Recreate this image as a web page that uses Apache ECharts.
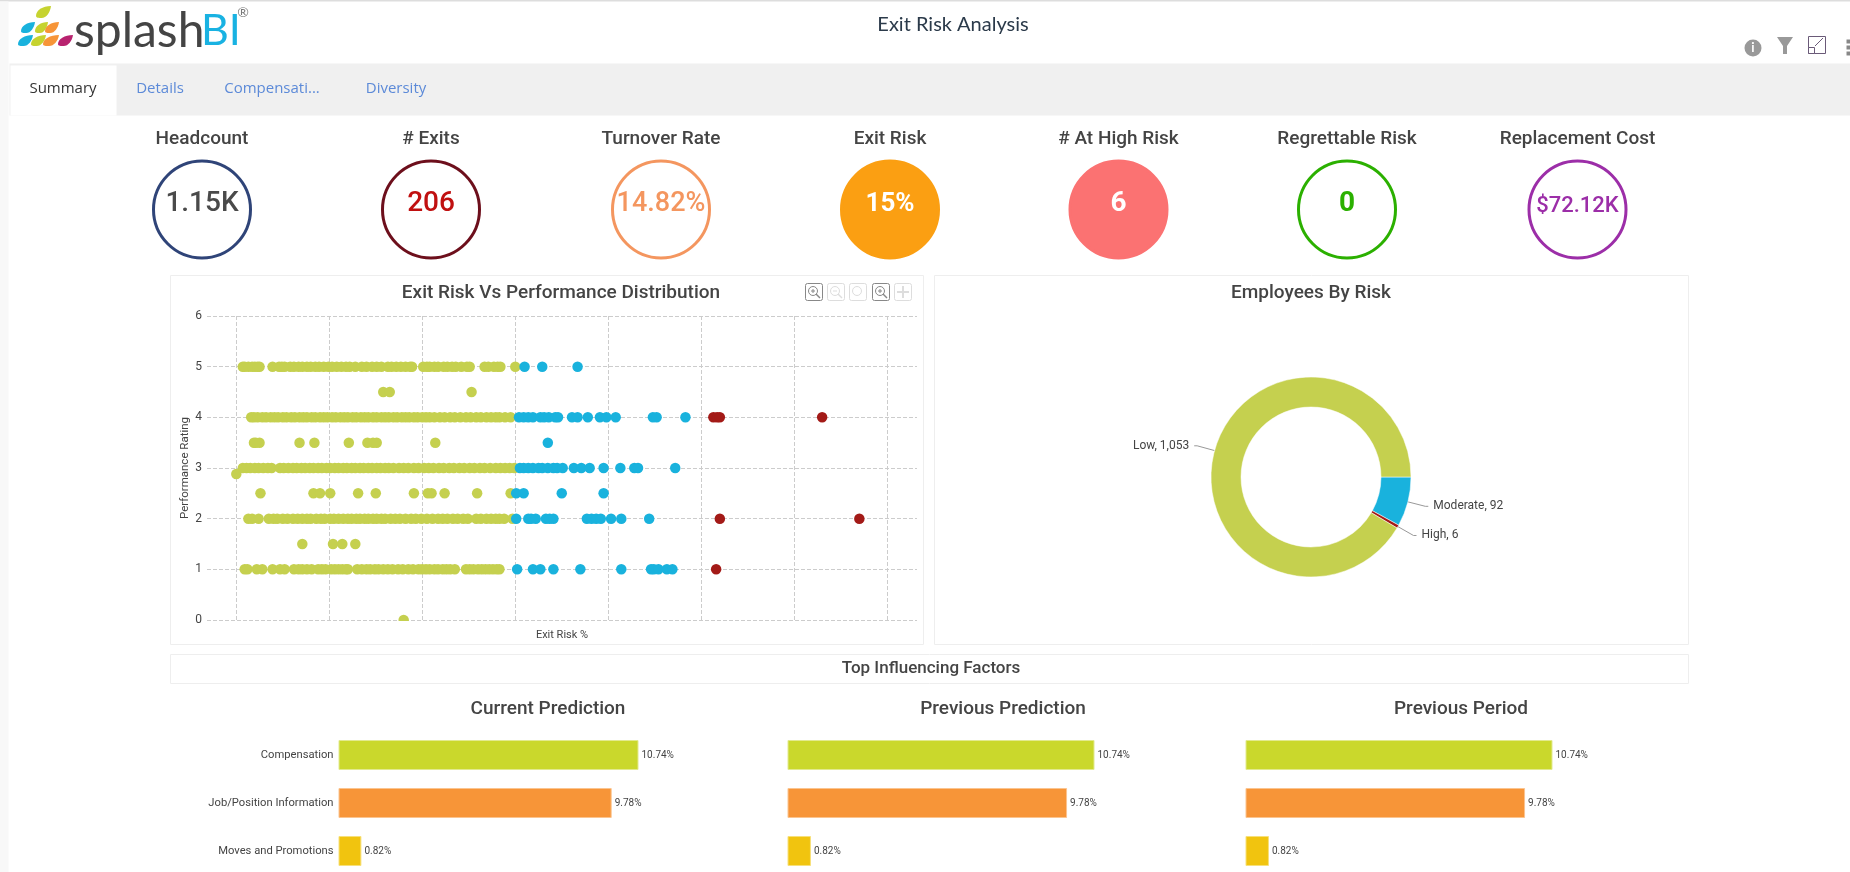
<!DOCTYPE html>
<html>
<head>
<meta charset="utf-8">
<title>Exit Risk Analysis</title>
<script src="https://cdn.jsdelivr.net/npm/echarts@6/dist/echarts.min.js"></script>
<style>
  html, body { margin: 0; padding: 0; background: #fff; overflow: hidden; }
  /* taller than the window: the last bar row runs off the bottom of the page */
  #echartbox { width: 1850px; height: 900px; }
</style>
</head>
<body>
<div id="echartbox"></div>
<script>
var myChart = echarts.init(document.getElementById('echartbox'));

// data
var tabs = ['Summary', 'Details', 'Compensati...', 'Diversity'];
var kpiNames = ['Headcount', '# Exits', 'Turnover Rate', 'Exit Risk', '# At High Risk', 'Regrettable Risk', 'Replacement Cost'];
var kpiValues = ['1.15K', '206', '14.82%', '15%', '6', '0', '$72.12K'];

var riskNames = ['Moderate', 'High', 'Low'];
var riskCounts = [92, 6, 1053];

var factors = ['Compensation', 'Job/Position Information', 'Moves and Promotions'];
var currentPrediction = [10.74, 9.78, 0.82];
var previousPrediction = [10.74, 9.78, 0.82];
var previousPeriod = [10.74, 9.78, 0.82];

// exit risk % per performance rating
var low5 = [0.7,0.9,1.3,1.7,2.0,2.3,2.5,3.9,4.6,4.9,5.2,5.8,6.2,6.7,7.1,7.6,8.0,8.5,8.9,9.4,9.9,10.3,10.8,11.3,11.8,12.2,12.8,13.5,14.0,14.6,15.1,15.6,16.3,16.7,17.2,17.7,18.2,18.7,18.9,20.1,20.5,20.8,21.3,21.7,22.3,22.7,23.2,23.6,24.2,24.8,25.1,26.7,27.1,27.7,28.1,28.4,30.0];
var low45 = [15.8,16.5,25.3];
var low4 = [1.6,1.9,2.3,2.8,3.2,3.7,4.1,4.5,5.0,5.4,5.9,6.3,6.8,7.2,7.6,8.1,8.5,9.0,9.4,9.8,10.3,10.7,11.2,11.6,12.0,12.5,12.9,13.4,13.8,14.2,14.7,15.1,15.6,16.0,16.4,16.9,17.3,17.8,18.2,18.6,19.1,19.5,20.0,20.4,20.8,21.3,21.9,22.4,23.0,23.5,24.1,24.7,25.2,25.8,26.3,26.9,27.4,27.9,28.3,28.9,29.5];
var low35 = [1.9,2.1,2.5,6.8,8.4,12.1,14.1,14.7,15.1,21.4];
var low3 = [0.7,1.1,1.5,2.0,2.4,2.9,3.4,3.8,4.7,5.1,5.6,6.1,6.5,7.0,7.4,7.9,8.3,8.8,9.2,9.7,10.1,10.6,11.0,11.5,11.9,12.4,12.8,13.3,13.7,14.2,14.6,15.1,15.5,16.0,16.4,16.9,17.5,18.0,18.5,19.1,19.6,20.2,20.7,21.2,21.8,22.3,22.9,23.4,24.0,24.5,25.1,25.6,26.2,26.7,27.3,27.9,28.4,28.9,29.4,29.9];
var low25 = [2.6,8.3,9.0,10.1,13.1,15.0,19.1,20.6,21.0,22.4,25.9,29.5];
var low2 = [1.3,1.7,2.4,3.5,4.0,4.4,5.0,5.5,6.1,6.6,7.1,7.6,8.0,8.6,9.1,9.5,10.1,10.5,11.0,11.5,12.0,12.4,12.9,13.3,13.8,14.2,14.7,15.1,15.6,16.0,16.6,17.1,17.6,18.2,18.8,19.3,19.9,20.5,21.1,21.7,22.2,22.7,23.3,23.8,24.4,24.9,25.8,26.3,26.9,27.4,27.9,28.3,28.8,29.7];
var low15 = [7.1,10.4,11.4,12.8];
var low1 = [0.9,1.2,2.2,2.8,3.9,4.7,5.2,6.2,6.7,7.1,7.6,8.1,8.8,9.2,9.6,10.2,10.6,11.0,11.4,11.8,12.0,13.0,13.5,14.0,14.4,14.9,15.3,15.8,16.3,16.8,17.4,17.9,18.5,19.0,19.6,20.0,20.4,20.8,21.3,21.7,22.2,22.6,23.0,23.5,24.7,25.1,25.5,26.0,26.4,26.8,27.2,27.6,28.0,28.3];
var lowOther = [[0, 2.88], [18.0, 0]];

var moderate5 = [31.0,32.9,36.7];
var moderate4 = [30.4,30.9,31.4,31.9,32.7,33.1,33.6,34.3,34.6,36.1,36.7,37.8,39.1,39.8,40.8,44.8,45.2,48.3];
var moderate35 = [33.5];
var moderate3 = [30.5,30.9,31.4,31.9,32.5,32.9,33.5,34.1,34.5,35.1,36.3,37.1,38.0,39.5,41.3,42.8,43.2,47.2];
var moderate25 = [30.1,30.9,35.0,39.5];
var moderate2 = [30.1,31.4,31.7,32.2,33.3,33.7,34.1,37.7,38.2,38.7,39.2,40.3,41.4,44.4];
var moderate1 = [30.2,31.9,32.7,34.1,37.0,41.4,44.6,44.9,45.4,46.3,46.9];

var high4 = [51.3,51.7,52.0,63.0];
var high2 = [52.0,67.0];
var high1 = [51.6];

var LOW = '#c5d04f', MODERATE = '#19b2dd', HIGH = '#a31a17';
var TEXT = '#444';
var FONT = 'Roboto, sans-serif';

// logo droplet, 16 x 11 before scaling
echarts.graphic.registerShape('teardrop', echarts.graphic.extendPath('M0,9 C0,4 7,0 16,0 C15,6 11,11 6,11 C3,11 0,11 0,9 Z', {}));

function row(list, rating) {
    return list.map(function(v) { return [v, rating]; });
}

var lowData = [].concat(row(low5, 5), row(low45, 4.5), row(low4, 4), row(low35, 3.5), row(low3, 3), row(low25, 2.5), row(low2, 2), row(low15, 1.5), row(low1, 1), lowOther);
var moderateData = [].concat(row(moderate5, 5), row(moderate4, 4), row(moderate35, 3.5), row(moderate3, 3), row(moderate25, 2.5), row(moderate2, 2), row(moderate1, 1));
var highData = [].concat(row(high4, 4), row(high2, 2), row(high1, 1));

// helpers for the page shell
function txt(s, x, y, font, color, align) {
    return {
        type: 'text', x: x, y: y, silent: true,
        style: { text: s, font: font, fill: color, align: align || 'center', verticalAlign: 'middle' }
    };
}
function box(x, y, w, h, fill, stroke) {
    return {
        type: 'rect', silent: true,
        shape: { x: x + 0.5, y: y + 0.5, width: w, height: h },
        style: { fill: fill, stroke: stroke || null, lineWidth: 1 }
    };
}
function seg(x1, y1, x2, y2, color, width) {
    return {
        type: 'line', silent: true,
        shape: { x1: x1, y1: y1, x2: x2, y2: y2 },
        style: { stroke: color, lineWidth: width || 1 }
    };
}

var graphics = [];

// header and tabs
graphics.push(box(-1, -1, 1852, 2, '#ddd'));
graphics.push(box(-1, 1, 9, 900, '#f8f8f8'));
graphics.push(box(9, 63, 1841, 52, '#f0f0f0'));
graphics.push(box(10, 65, 106, 50, '#fff'));
graphics.push(txt('Exit Risk Analysis', 953, 25, '20px Lato, sans-serif', '#2b3a4a'));
var tabX = [63, 160, 272, 396];
tabs.forEach(function(t, i) {
    graphics.push(txt(t, tabX[i], 89, '15px "Open Sans", sans-serif', i === 0 ? '#333' : '#5c8ad8'));
});

// logo
var drops = [
    [36, 6, 15, 12, '#c6d330'],
    [21, 22, 14, 11, '#19b2dd'], [35, 22, 13, 11, '#c6d330'], [45, 22, 14, 11, '#f79538'],
    [18, 35, 15, 11, '#19b2dd'], [31, 35, 15, 11, '#c6d330'], [43, 35, 16, 11, '#f79538'], [58, 35, 15, 11, '#b8236f']
];
drops.forEach(function(d) {
    graphics.push({
        type: 'teardrop', silent: true,
        x: d[0], y: d[1], scaleX: d[2] / 16, scaleY: d[3] / 11,
        style: { fill: d[4] }
    });
});
graphics.push(txt('splash', 74, 32, '48px Lato, sans-serif', '#444', 'left'));
graphics.push(txt('BI', 201, 31, '43px Lato, sans-serif', '#19b2e2', 'left'));
graphics.push(txt('®', 243, 12, '14px Lato, sans-serif', '#777'));

// header icons
graphics.push({ type: 'circle', silent: true, shape: { cx: 1753, cy: 48, r: 8.5 }, style: { fill: '#999' } });
graphics.push(txt('i', 1753, 48, 'bold 13px Lato, sans-serif', '#fff'));
graphics.push({ type: 'polygon', silent: true, shape: { points: [[1777, 37], [1793, 37], [1787, 46], [1787, 54], [1783, 54], [1783, 46]] }, style: { fill: '#999' } });
graphics.push(box(1808, 36, 17, 17, null, '#6a5a78'));
graphics.push(box(1808, 47, 6, 6, '#fff', '#6a5a78'));
graphics.push(seg(1815, 46, 1823, 38, '#6a5a78'));
graphics.push(box(1846, 39, 5, 4, '#888'));
graphics.push(box(1846, 45, 5, 4, '#888'));
graphics.push(box(1846, 51, 5, 4, '#888'));

// KPI row
var kpiX = [202, 431, 661, 890, 1118.5, 1347, 1577.5];
var kpiRing = ['#2f4478', '#6d0f1c', '#f4965f', '#fb9f12', '#fb7272', '#2bb000', '#9c2ea8'];
var kpiFill = ['#fff', '#fff', '#fff', '#fb9f12', '#fb7272', '#fff', '#fff'];
var kpiText = ['#4a4a4a', '#c01010', '#f4965f', '#fff', '#fff', '#2bb000', '#9c2ea8'];
var kpiFont = ['500 28px', '500 28px', '500 27px', 'bold 26px', 'bold 28px', 'bold 28px', '500 22px'];
kpiNames.forEach(function(n, i) {
    graphics.push(txt(n, kpiX[i], 139, '500 19px ' + FONT, TEXT));
    graphics.push({
        type: 'circle', silent: true,
        shape: { cx: kpiX[i], cy: 209.5, r: 48.5 },
        style: { fill: kpiFill[i], stroke: kpiRing[i], lineWidth: 3 }
    });
    graphics.push(txt(kpiValues[i], kpiX[i], i === 6 ? 206 : 204, kpiFont[i] + ' ' + FONT, kpiText[i]));
});

// panels
graphics.push(box(170, 275, 753, 369, '#fff', '#eee'));
graphics.push(box(934, 275, 754, 369, '#fff', '#eee'));
graphics.push(box(170, 654, 1518, 29, '#fff', '#eee'));
graphics.push(txt('Exit Risk Vs Performance Distribution', 561, 293, '500 19px ' + FONT, TEXT));
graphics.push(txt('Employees By Risk', 1311, 293, '500 19px ' + FONT, TEXT));
graphics.push(txt('Top Influencing Factors', 931, 669, '500 17px ' + FONT, TEXT));
graphics.push(txt('Current Prediction', 548, 709, '500 19px ' + FONT, TEXT));
graphics.push(txt('Previous Prediction', 1003, 709, '500 19px ' + FONT, TEXT));
graphics.push(txt('Previous Period', 1461, 709, '500 19px ' + FONT, TEXT));

// zoom toolbar icons on the scatter panel
var toolX = [814, 836, 858, 881, 903];
var toolColor = ['#888', '#ddd', '#ddd', '#888', '#ddd'];
toolX.forEach(function(x, i) {
    var c = toolColor[i];
    graphics.push({
        type: 'rect', silent: true,
        shape: { x: x - 8.5, y: 283.5, width: 17, height: 17, r: 2 },
        style: { fill: '#fff', stroke: c }
    });
    if (i === 4) {
        // pan
        graphics.push(seg(x - 6, 292, x + 6, 292, c, 2));
        graphics.push(seg(x, 286, x, 298, c, 2));
        return;
    }
    graphics.push({ type: 'circle', silent: true, shape: { cx: x - 1, cy: 291, r: 4.5 }, style: { fill: null, stroke: c, lineWidth: 1 } });
    if (i === 2) {
        return;
    }
    graphics.push(seg(x + 2, 294, x + 6, 298, c, 1.5));
    graphics.push(seg(x - 3, 291, x + 1, 291, c));
    if (i === 0 || i === 3) {
        graphics.push(seg(x - 1, 289, x - 1, 293, c));
    }
});

// the dot on rating 0 is cut at the plot edge
graphics.push({
    type: 'rect', silent: true, z: 50,
    shape: { x: 230, y: 621, width: 660, height: 8 },
    style: { fill: '#fff' }
});

var barColors = ['#cad82c', '#f79538', '#f1c40f'];
var barEdges = ['#e2ea8e', '#fbc48f', '#f7e07a'];

function barGrid(idx, left, width, values, showNames) {
    return {
        grid: { left: left, top: 731, width: width, height: 144 },
        xAxis: { type: 'value', gridIndex: idx, min: 0, max: 10.74, show: false },
        yAxis: {
            type: 'category', gridIndex: idx, inverse: true, data: factors,
            axisLine: { show: false }, axisTick: { show: false }, splitLine: { show: false },
            axisLabel: { show: showNames, color: TEXT, fontSize: 11.2, fontFamily: FONT, margin: 5 }
        },
        series: {
            type: 'bar', xAxisIndex: idx, yAxisIndex: idx, barWidth: 30,
            data: values.map(function(v, i) {
                return { value: v, itemStyle: { color: barColors[i], borderColor: barEdges[i], borderWidth: 1 } };
            }),
            label: {
                show: true, position: 'right', distance: 3, color: TEXT, fontSize: 10, fontFamily: FONT,
                formatter: function(p) { return p.value.toFixed(2) + '%'; }
            },
            silent: true
        }
    };
}
var bar1 = barGrid(1, 338.5, 300, currentPrediction, true);
var bar2 = barGrid(2, 787.5, 307, previousPrediction, false);
var bar3 = barGrid(3, 1245.5, 307, previousPeriod, false);

var option = {
    animation: false,
    backgroundColor: '#fff',
    textStyle: { fontFamily: FONT },
    graphic: { elements: graphics },
    grid: [{ left: 207, top: 316, width: 710, height: 304 }, bar1.grid, bar2.grid, bar3.grid],
    xAxis: [{
        type: 'value', gridIndex: 0, min: -3.15, max: 73.2, splitNumber: 8,
        name: 'Exit Risk %', nameLocation: 'middle', nameGap: 10,
        nameTextStyle: { color: TEXT, fontSize: 11, fontFamily: FONT },
        axisLine: { show: false }, axisTick: { show: false }, axisLabel: { show: false },
        splitLine: { show: true, showMinLine: false, showMaxLine: false, lineStyle: { type: 'dashed', color: '#ccc' } }
    }, bar1.xAxis, bar2.xAxis, bar3.xAxis],
    yAxis: [{
        type: 'value', gridIndex: 0, min: 0, max: 6, interval: 1,
        name: 'Performance Rating', nameLocation: 'middle', nameGap: 16,
        nameTextStyle: { color: TEXT, fontSize: 11.5, fontFamily: FONT },
        axisLine: { show: false }, axisTick: { show: false },
        axisLabel: { color: TEXT, fontSize: 12, fontFamily: FONT, margin: 5 },
        splitLine: { show: true, lineStyle: { type: 'dashed', color: '#ccc' } }
    }, bar1.yAxis, bar2.yAxis, bar3.yAxis],
    series: [
        { name: 'Low', type: 'scatter', symbolSize: 10.5, data: lowData, itemStyle: { color: LOW, opacity: 1 }, silent: true },
        { name: 'Moderate', type: 'scatter', symbolSize: 10.5, data: moderateData, itemStyle: { color: MODERATE, opacity: 1 }, silent: true },
        { name: 'High', type: 'scatter', symbolSize: 10.5, data: highData, itemStyle: { color: HIGH, opacity: 1 }, silent: true },
        {
            name: 'Employees By Risk', type: 'pie', center: [1311, 477], radius: [70, 100],
            startAngle: 0, clockwise: true, silent: true, avoidLabelOverlap: false,
            data: riskNames.map(function(n, i) {
                return { name: n, value: riskCounts[i], itemStyle: { color: [MODERATE, HIGH, LOW][i] } };
            }),
            itemStyle: { borderColor: '#fff', borderWidth: 0.5 },
            label: {
                color: TEXT, fontSize: 12, fontFamily: FONT,
                formatter: function(p) { return p.name + ', ' + p.value.toLocaleString('en-US'); }
            },
            labelLine: { length: 18, length2: 3, lineStyle: { color: '#999', width: 1 } }
        },
        bar1.series, bar2.series, bar3.series
    ]
};

myChart.setOption(option);
</script>
</body>
</html>
